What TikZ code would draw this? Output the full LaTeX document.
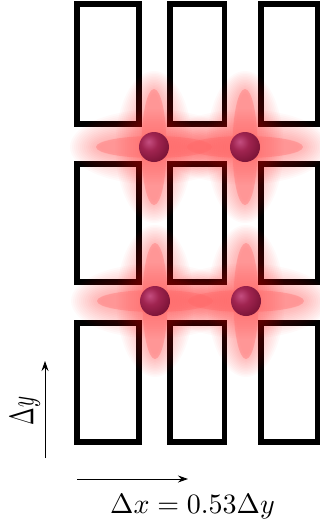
\documentclass[tikz,border=0pt]{standalone}
\usepackage{graphicx}
\usetikzlibrary{arrows.meta}

\definecolor{glowred}{rgb}{1,0.10,0.10}
\definecolor{lobered}{rgb}{1,0.40,0.40}
\definecolor{atomhi}{RGB}{196,78,128}
\definecolor{atommid}{RGB}{160,36,80}
\definecolor{atomlo}{RGB}{120,18,52}
\definecolor{atomedge}{RGB}{85,10,35}

% shaded sphere for the trapped atoms, lit from the upper left
\pgfdeclareradialshading{atomball}{\pgfpoint{-9bp}{9bp}}{%
  color(0bp)=(atomhi); color(14bp)=(atommid); color(34bp)=(atomlo);
  color(48bp)=(atomedge); color(100bp)=(atomedge)}

\begin{document}
\begin{tikzpicture}[x=1pt,y=-1pt,
  cell/.style={draw=black, line width=5.5pt, inner sep=0pt},
  atom/.style={circle, minimum size=30pt, inner sep=0pt, shading=atomball},
  axis/.style={line width=0.9pt, -{Stealth[length=10pt,width=7pt,inset=3.5pt]}}]
\useasboundingbox (0,0) rectangle (320,525);
\clip (0,0) rectangle (320,525);
\fill[white] (0,0) rectangle (320,525);

% lattice of rectangular cells
\foreach \cx/\w [count=\c] in {108/62,197/54.5,289.5/57}{
  \foreach \cy/\h [count=\r] in {64/120,223/118,382.5/119}{
    \node[cell, minimum width=\w pt, minimum height=\h pt] (cell-\r-\c) at (\cx,\cy) {};
  }
}

% soft glow around each trapping site
\foreach \ax/\ay in {154/147,245/147,155/301,246/301}{
  \foreach \k in {1,...,16}{
    \fill[glowred, opacity=0.022] (\ax,\ay) ellipse [x radius={8pt+1.9pt*\k}, y radius={52pt+1.5pt*\k}];
    \fill[glowred, opacity=0.022] (\ax,\ay) ellipse [x radius={52pt+2.0pt*\k}, y radius={7pt+1.9pt*\k}];
  }
}

% cross-shaped wavefunction lobes
\foreach \ax/\ay in {154/147,245/147,155/301,246/301}{
  \fill[lobered, opacity=0.35] (\ax,\ay) ellipse [x radius=12.5pt, y radius=58pt];
  \fill[lobered, opacity=0.35] (\ax,\ay) ellipse [x radius=58pt, y radius=11pt];
}

% atoms
\node[atom] (atom1) at (154,147) {};
\node[atom] (atom2) at (245,147) {};
\node[atom] (atom3) at (155,301) {};
\node[atom] (atom4) at (246,301) {};

% axes
\coordinate (ystart) at (45,458);
\coordinate (yend) at (45,361);
\coordinate (xstart) at (77,479);
\coordinate (xend) at (188,479);
\draw[axis] (ystart) -- (yend);
\draw[axis] (xstart) -- (xend);

\node[rotate=90, inner sep=0pt] (ylabel) at (25,411) {\scalebox{2.1}[3.4]{$\Delta y$}};
\node[inner sep=0pt] (xlabel) at (192.5,507) {\scalebox{2.8}{$\Delta x = 0.53\Delta y$}};
\end{tikzpicture}
\end{document}
